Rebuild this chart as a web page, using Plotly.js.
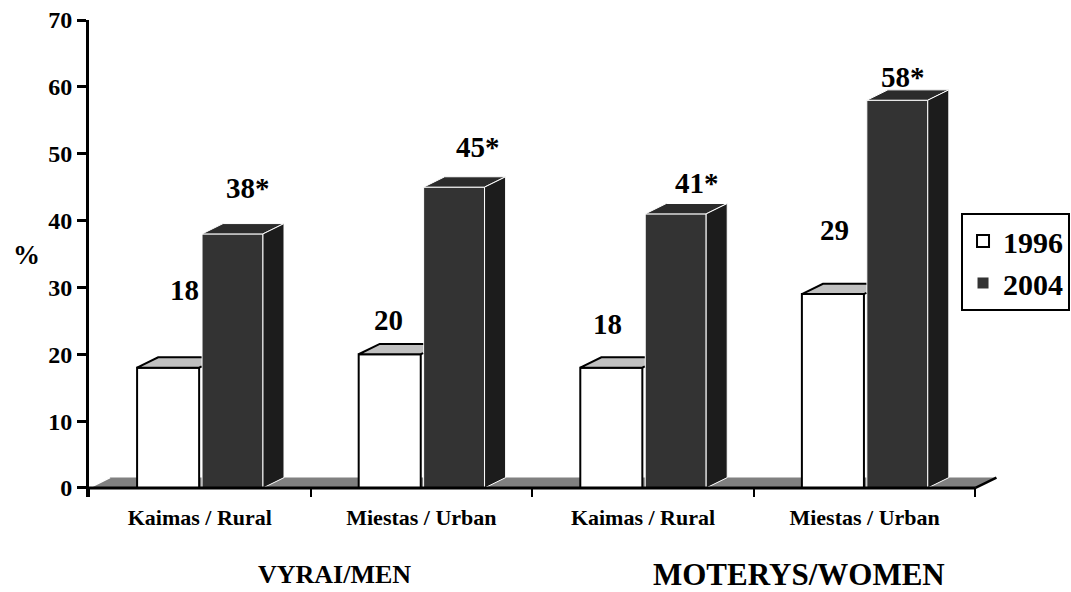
<!DOCTYPE html>
<html><head><meta charset="utf-8">
<script src="https://cdn.plot.ly/plotly-3.0.1.min.js"></script>
<style>html,body{margin:0;padding:0;background:#fff}#chart{width:1071px;height:592px}</style>
</head><body><div id="chart"></div>
<script>
// ---- data ----
var categories = ['Kaimas / Rural', 'Miestas / Urban', 'Kaimas / Rural', 'Miestas / Urban'];
var groups = ['VYRAI/MEN', 'MOTERYS/WOMEN'];
var seriesNames = ['1996', '2004'];
var values1996 = [18, 20, 18, 29];
var values2004 = [38, 45, 41, 58];
var labels1996 = ['18', '20', '18', '29'];
var labels2004 = ['38*', '45*', '41*', '58*'];
var yTickVals = [0, 10, 20, 30, 40, 50, 60, 70];

// ---- layout tweaks (not data) ----
var DX = 0.095, DY = 1.55;           // 3D depth offset
var OFF1 = 0.217, W1 = 0.28;         // 1996 bar left offset / width in category
var OFF2 = 0.51, W2 = 0.275;         // 2004 bar
var lift1996 = [11.6, 5.1, 6.5, 9.6];
var lift2004 = [6.9, 6.0, 4.6, 3.5];
var shift1996 = [0.076, -0.007, -0.018, 0.006];
var shift2004 = [0.07, 0.108, 0.097, 0.027];
var groupLabelX = [1.106, 3.205];
var groupLabelSize = [26, 31];
var FONT = '"Liberation Serif", "Times New Roman", Times, serif';
var N = categories.length;

var c1 = categories.map(function (_, k) { return k + OFF1 + W1 / 2; });
var c2 = categories.map(function (_, k) { return k + OFF2 + W2 / 2; });

var traces = [
  {type: 'bar', name: seriesNames[0], x: c1, y: values1996, width: W1,
   marker: {color: '#ffffff', line: {color: '#000000', width: 2}}, hoverinfo: 'skip'},
  {type: 'bar', name: seriesNames[1], x: c2, y: values2004, width: W2,
   marker: {color: '#333333', line: {color: '#ffffff', width: 1}}, hoverinfo: 'skip'}
];

function face(xs, ys, fill, lc, lw) {
  return {type: 'scatter', mode: 'lines', x: xs, y: ys, fill: 'toself', fillcolor: fill,
          line: {color: lc, width: lw}, showlegend: false, hoverinfo: 'skip'};
}

categories.forEach(function (_, k) {
  var v1 = values1996[k], v2 = values2004[k];
  var x0 = k + OFF1, x1 = x0 + W1;
  var d0 = k + OFF2, d1 = d0 + W2;
  var xc = d0 - 0.002, yc = v1 + DY * (xc - x1) / DX;
  traces.push(face([xc, x1, x0, x0 + DX, xc], [yc, v1, v1, v1 + DY, v1 + DY], '#c0c0c0', '#000000', 2));
  traces.push(face([d0, d1, d1 + DX, d0 + DX, d0], [v2, v2, v2 + DY, v2 + DY, v2], '#2b2b2b', '#ffffff', 1));
  traces.push(face([d1, d1 + DX, d1 + DX, d1, d1], [0, DY, v2 + DY, v2, 0], '#1c1c1c', '#ffffff', 1));
});

var annotations = [];
categories.forEach(function (_, k) {
  annotations.push({x: c1[k] + shift1996[k], y: values1996[k] + lift1996[k], xref: 'x', yref: 'y',
    text: labels1996[k], showarrow: false, font: {family: FONT, size: 29, weight: 'bold', color: '#000'}});
  annotations.push({x: c2[k] + shift2004[k], y: values2004[k] + lift2004[k], xref: 'x', yref: 'y',
    text: labels2004[k], showarrow: false, font: {family: FONT, size: 29, weight: 'bold', color: '#000'}});
});
groups.forEach(function (g, i) {
  annotations.push({x: groupLabelX[i], y: -0.163, xref: 'x', yref: 'paper', text: g, showarrow: false,
    yanchor: 'middle', font: {family: FONT, size: groupLabelSize[i], weight: 'bold', color: '#000'}});
});
annotations.push({x: -0.069, y: 0.507, xref: 'paper', yref: 'paper', text: '%', showarrow: false,
  xanchor: 'center', font: {family: FONT, size: 27, weight: 'bold', color: '#000'}});

var shapes = [
  {type: 'path', xref: 'x', yref: 'y', layer: 'below',
   path: 'M0,0 L' + N + ',0 L' + (N + DX) + ',' + DY + ' L' + DX + ',' + DY + ' Z',
   fillcolor: '#808080', line: {width: 0}},
  {type: 'line', xref: 'x', yref: 'y', layer: 'below', x0: 0, y0: 0, x1: DX, y1: DY,
   line: {color: '#ffffff', width: 1.5}},
  {type: 'line', xref: 'x', yref: 'y', layer: 'above', x0: 0, y0: 0, x1: N, y1: 0,
   line: {color: '#000000', width: 3}},
  {type: 'line', xref: 'x', yref: 'y', layer: 'above', x0: N, y0: 0, x1: N + DX, y1: DY,
   line: {color: '#000000', width: 2.5}}
];

var layout = {
  width: 1071, height: 592,
  margin: {l: 89, r: 69, t: 20, b: 95, autoexpand: false},
  paper_bgcolor: '#ffffff', plot_bgcolor: '#ffffff',
  barmode: 'overlay',
  showlegend: true,
  font: {family: FONT, color: '#000'},
  legend: {x: 1.0745, y: 0.5954, xanchor: 'right', yanchor: 'top', bgcolor: '#ffffff',
           bordercolor: '#000000', borderwidth: 2, itemwidth: 30,
           font: {family: FONT, size: 30, weight: 'bold', color: '#000'}},
  xaxis: {range: [0, N + 0.12], tickmode: 'array', tickvals: categories.map(function (_, k) { return k + 0.5; }),
          ticktext: categories, ticks: '', showgrid: false, zeroline: false, showline: false,
          ticklabelstandoff: 5,
          tickfont: {family: FONT, size: 22, weight: 'bold', color: '#000'},
          minor: {tickmode: 'array', tickvals: categories.map(function (_, k) { return k; }).concat([N]),
                  ticks: 'inside', ticklen: 9, tickwidth: 2, tickcolor: '#000', showgrid: false},
          fixedrange: true},
  yaxis: {range: [-1.35, 70], tickmode: 'array', tickvals: yTickVals, ticks: 'outside', ticklen: 9,
          tickwidth: 3, tickcolor: '#000', showline: true, linewidth: 3, linecolor: '#000',
          showgrid: false, zeroline: false,
          tickfont: {family: FONT, size: 24, weight: 'bold', color: '#000'}, fixedrange: true},
  annotations: annotations,
  shapes: shapes
};

Plotly.newPlot('chart', traces, layout, {staticPlot: true, displayModeBar: false});
</script>
</body></html>
